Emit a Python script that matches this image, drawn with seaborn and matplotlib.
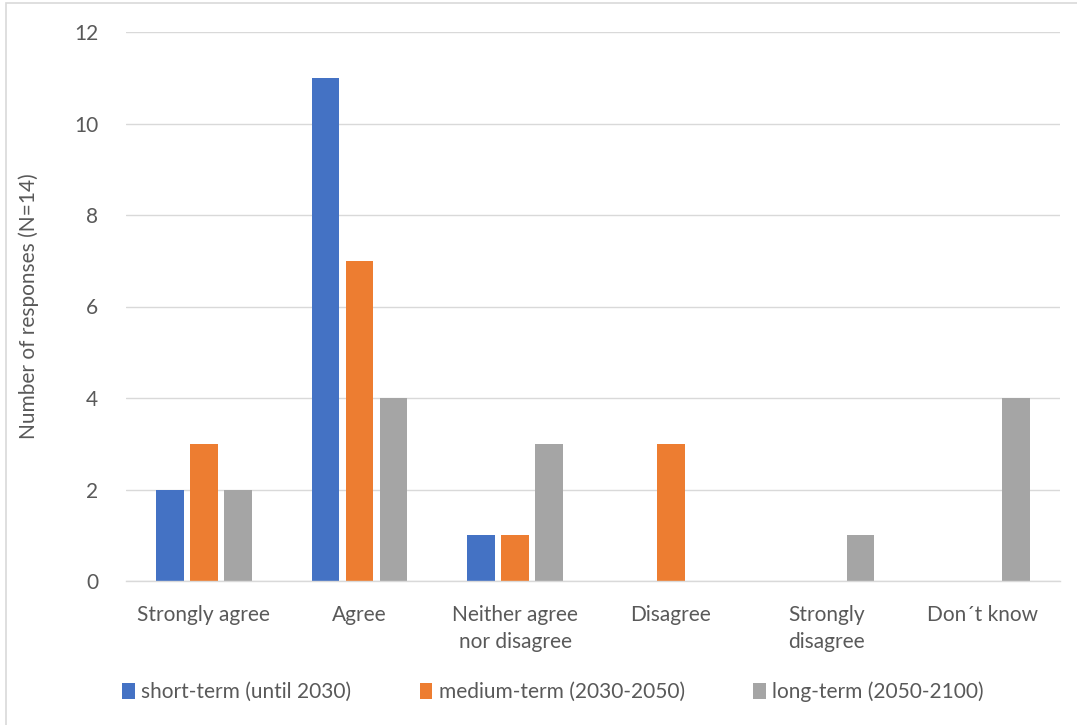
import matplotlib
matplotlib.use("Agg")
import matplotlib.pyplot as plt
import seaborn as sns
import pandas as pd
from matplotlib.patches import Rectangle

categories = ["Strongly agree", "Agree", "Neither agree\nnor disagree", "Disagree",
              "Strongly\ndisagree", "Don\u00b4t know"]
series_names = ["short-term (until 2030)", "medium-term (2030-2050)", "long-term (2050-2100)"]
short_term = [2, 11, 1, 0, 0, 0]
medium_term = [3, 7, 1, 3, 0, 0]
long_term = [2, 4, 3, 0, 1, 4]
colors = ["#4472C4", "#ED7D31", "#A5A5A5"]
y_ticks = [0, 2, 4, 6, 8, 10, 12]

rows = []
for name, vals in zip(series_names, [short_term, medium_term, long_term]):
    for cat, v in zip(categories, vals):
        rows.append({"category": cat, "series": name, "value": v})
df = pd.DataFrame(rows)

sns.set_style("white")
plt.rcParams["font.family"] = ["Lato", "DejaVu Sans"]
text_color = "#595959"
fs = 15

fig = plt.figure(figsize=(10.77, 7.25), dpi=100)
ax = fig.add_axes([126 / 1077, 1 - 581 / 725, 934 / 1077, 549 / 725])

sns.barplot(data=df, x="category", y="value", hue="series", order=categories,
            hue_order=series_names, palette=colors, width=0.655, gap=0.18,
            saturation=1, linewidth=0, ax=ax, legend=True)

ax.set_ylim(0, 12)
ax.set_xlim(-0.5, len(categories) - 0.5)
ax.set_yticks(y_ticks)
ax.yaxis.grid(True, color="#D9D9D9", linewidth=1)
ax.set_axisbelow(True)
for side in ["top", "right", "left"]:
    ax.spines[side].set_visible(False)
ax.spines["bottom"].set_color("#D9D9D9")
ax.spines["bottom"].set_linewidth(1)
ax.tick_params(axis="both", length=0, labelsize=fs, colors=text_color)
ax.tick_params(axis="x", pad=17)
ax.tick_params(axis="y", pad=20)
for lbl in ax.get_xticklabels():
    lbl.set_linespacing(1.45)
ax.set_xlabel("")
ax.set_ylabel("Number of responses (N=14)", fontsize=fs, color=text_color, labelpad=25)

handles, labels = ax.get_legend_handles_labels()
ax.legend_.remove()
fig.legend(handles, labels, loc="center", bbox_to_anchor=(553 / 1077, 1 - 692 / 725), ncol=3,
           frameon=False, fontsize=fs, labelcolor=text_color, handlelength=0.6,
           handleheight=0.75, handletextpad=0.3, columnspacing=3.3)

fig.patches.append(Rectangle((6 / 1077, -0.01), 1.02, 1 - 3 / 725 + 0.01, transform=fig.transFigure,
                             fill=False, edgecolor="#D9D9D9", linewidth=1.2))

fig.savefig("out.png", dpi=100)
